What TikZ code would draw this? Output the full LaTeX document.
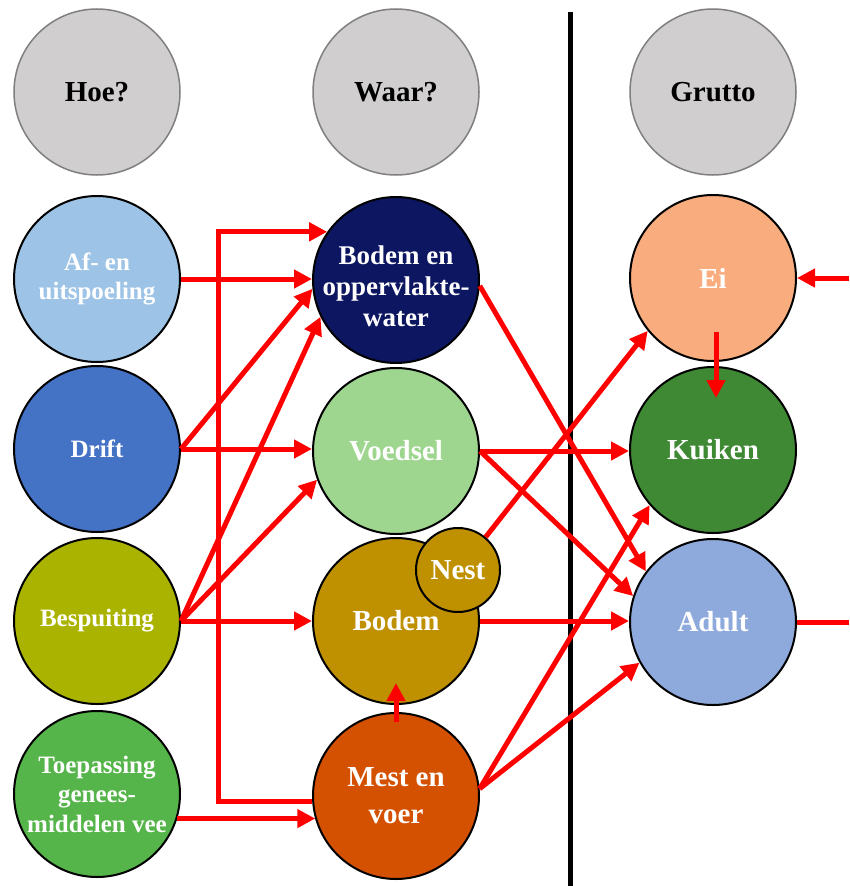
\documentclass[tikz,border=0pt]{standalone}
\usepackage{fontspec}
\setmainfont{Liberation Serif}
\usetikzlibrary{arrows.meta,calc}
\definecolor{hdrfill}{HTML}{D0CECE}
\definecolor{hdrline}{HTML}{7F7F7F}
\definecolor{cAf}{HTML}{9DC3E6}
\definecolor{cDrift}{HTML}{4472C4}
\definecolor{cBesp}{HTML}{AAB300}
\definecolor{cToep}{HTML}{56B54A}
\definecolor{cBow}{HTML}{0C1661}
\definecolor{cVoed}{HTML}{9ED68F}
\definecolor{cBodem}{HTML}{BF9000}
\definecolor{cMest}{HTML}{D35100}
\definecolor{cEi}{HTML}{F9AD7E}
\definecolor{cKuiken}{HTML}{3F8935}
\definecolor{cAdult}{HTML}{8EA9DB}
\definecolor{cRed}{HTML}{FF0000}
\tikzset{
  hdr/.style={circle, draw=hdrline, fill=hdrfill, line width=1.5pt, minimum size=166pt, inner sep=0pt,
    font=\fontsize{29}{33}\selectfont\bfseries, text=black},
  circ/.style={circle, draw=black, line width=2pt, minimum size=166pt, inner sep=0pt, align=center, text=white},
  lefttxt/.style={font=\fontsize{25}{29.5}\selectfont\bfseries},
  midtxt/.style={font=\fontsize{29}{32}\selectfont\bfseries},
  mestxt/.style={font=\fontsize{29}{37}\selectfont\bfseries},
  midsmall/.style={font=\fontsize{27}{31}\selectfont\bfseries},
  arr/.style={draw=cRed, line width=5pt, -{Triangle[length=18pt,width=18pt]}},
  plain/.style={draw=cRed, line width=5pt},
}
\begin{document}
\begin{tikzpicture}[x=1pt,y=-1pt]
\useasboundingbox (0,0) rectangle (849,886);
% divider
\draw[line width=5pt] (570,12) -- (570,886);
% headers
\node[hdr] (hoe) at (97,92) {Hoe?};
\node[hdr] (waar) at (396,92) {Waar?};
\node[hdr] (grutto) at (713,92) {Grutto};
% left column
\node[circ, lefttxt, fill=cAf] (af) at (97,279) {Af- en\\uitspoeling};
\node[circ, lefttxt, fill=cDrift] (drift) at (97,449) {Drift};
\node[circ, lefttxt, fill=cBesp] (besp) at (97,621) {Bespuiting};
\node[circ, lefttxt, fill=cToep] (toep) at (97,794) {Toepassing\\genees-\\middelen vee};
% middle column
\node[circ, fill=cBow, label={[midsmall, text=white, align=center, yshift=-6pt]center:Bodem en\\oppervlakte-\\water}] (bow) at (396,280) {};
\node[circ, midtxt, fill=cVoed] (voed) at (396,451) {Voedsel};
\node[circ, midtxt, fill=cBodem] (bodem) at (396,621) {Bodem};
\node[circ, mestxt, fill=cMest] (mest) at (396,796) {Mest en\\voer};
\node[circle, draw=black, line width=2pt, minimum size=84pt, inner sep=0pt, fill=cBodem, text=white,
  font=\fontsize{29}{32}\selectfont\bfseries] (nest) at (458,570) {Nest};
% right column
\node[circ, midtxt, fill=cEi] (ei) at (713,278) {Ei};
\node[circ, midtxt, fill=cKuiken] (kuiken) at (713,450) {Kuiken};
\node[circ, midtxt, fill=cAdult] (adult) at (713,622) {Adult};
\coordinate (inR) at (849,278);
\coordinate (outR) at (849,622);
% connectors
\draw[arr] (af.east) -- (af.east -| bow.west);
\draw[arr, line join=miter] (mest.184) -| ([xshift=-109pt]bow.145) -- (bow.145);
\draw[arr] (drift.east) -- (bow.186);
\draw[arr] (drift.east) -- (drift.east -| voed.west);
\draw[arr] (besp.east) -- (bow.206);
\draw[arr] (besp.east) -- (voed.200);
\draw[arr] (besp.east) -- (bodem.west);
\draw[arr] (toep.343) -- (toep.343 -| mest.196);
\draw[arr] ([yshift=-10pt]mest.north) -- ([yshift=22pt]bodem.south);
\draw[arr] (bow.356) -- (adult.143);
\draw[arr] (voed.east) -- (voed.east -| kuiken.west);
\draw[arr] (voed.east) -- (adult.162);
\draw[arr] (nest.50) -- (ei.219);
\draw[arr] (bodem.east) -- (bodem.east -| adult.west);
\draw[arr] (mest.5) -- (kuiken.221);
\draw[arr] (mest.5) -- (adult.209);
\draw[arr] ([xshift=3pt,yshift=-54pt]ei.center) -- ([xshift=3pt,yshift=-32pt]kuiken.north);
\draw[arr] (inR) -- (ei.east);
\draw[plain] (adult.east) -- (outR);
\end{tikzpicture}
\end{document}
